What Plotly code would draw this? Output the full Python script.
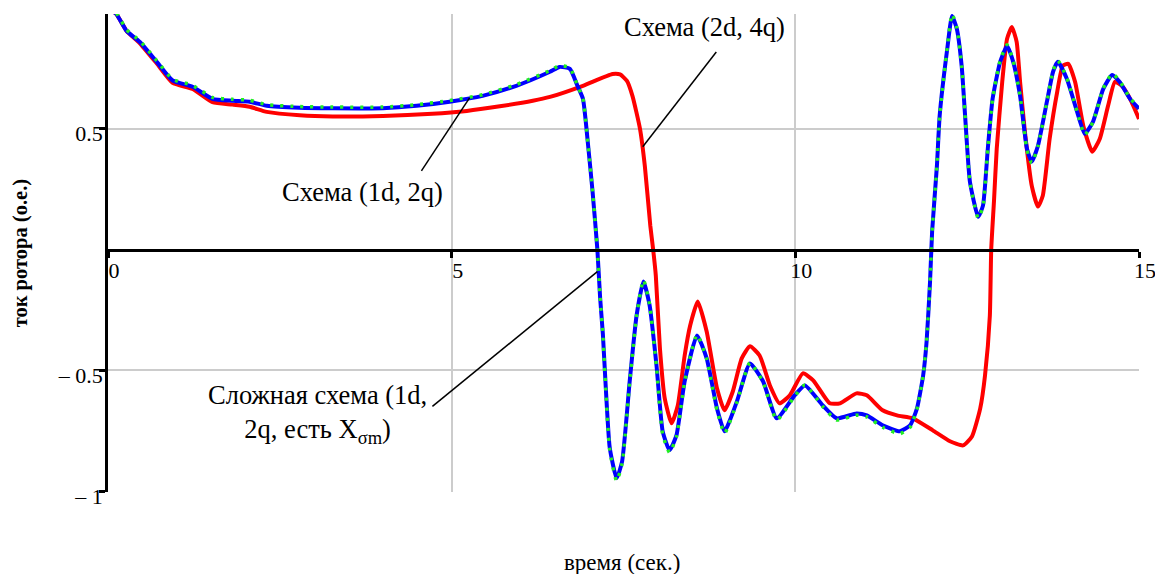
import plotly.graph_objects as go

# ---- data ----
t_blue = [0.0, 0.12, 0.27, 0.46, 0.71, 0.94, 1.23, 1.52, 1.81, 2.06, 2.31, 2.79, 3.27, 4.0,
          4.49, 4.97, 5.45, 5.94, 6.43, 6.57, 6.72, 6.83, 6.91, 6.98, 7.05, 7.12, 7.16, 7.20,
          7.24, 7.30, 7.40, 7.48, 7.59, 7.69, 7.79, 7.88, 7.98, 8.07, 8.17, 8.27, 8.39, 8.57,
          8.71, 8.86, 8.97, 9.15, 9.34, 9.53, 9.73, 9.99, 10.14, 10.40, 10.60, 10.89, 11.04,
          11.27, 11.52, 11.67, 11.77, 11.86, 11.91, 11.96, 11.99, 12.06, 12.10, 12.21, 12.28,
          12.35, 12.42, 12.47, 12.54, 12.66, 12.73, 12.80, 12.87, 12.98, 13.08, 13.17, 13.27,
          13.37, 13.44, 13.53, 13.66, 13.75, 13.82, 13.95, 14.10, 14.21, 14.33, 14.48, 14.61,
          14.72, 14.87, 15.0]
i_blue = [1.00, 0.975, 0.905, 0.86, 0.777, 0.70, 0.674, 0.624, 0.616, 0.612, 0.595, 0.587,
          0.585, 0.585, 0.595, 0.612, 0.636, 0.678, 0.736, 0.756, 0.748, 0.678, 0.624, 0.446,
          0.24, 0.0, -0.2, -0.35, -0.56, -0.82, -0.946, -0.876, -0.545, -0.273, -0.132, -0.231,
          -0.479, -0.752, -0.83, -0.769, -0.545, -0.355, -0.45, -0.657, -0.752, -0.628, -0.471,
          -0.545, -0.698, -0.603, -0.562, -0.645, -0.698, -0.678, -0.686, -0.727, -0.752,
          -0.727, -0.657, -0.52, -0.38, -0.132, 0.074, 0.347, 0.554, 0.83, 0.967, 0.913, 0.76,
          0.554, 0.281, 0.136, 0.182, 0.417, 0.624, 0.777, 0.843, 0.777, 0.636, 0.417, 0.364,
          0.43, 0.612, 0.736, 0.777, 0.707, 0.57, 0.479, 0.529, 0.665, 0.723, 0.694, 0.624,
          0.583]
i_green = [1.00, 0.98, 0.91, 0.865, 0.782, 0.705, 0.68, 0.63, 0.622, 0.618, 0.60, 0.592,
           0.59, 0.59, 0.60, 0.617, 0.641, 0.683, 0.741, 0.762, 0.752, 0.68, 0.624, 0.446,
           0.24, 0.0, -0.2, -0.35, -0.57, -0.83, -0.958, -0.885, -0.55, -0.275, -0.125, -0.228,
           -0.485, -0.765, -0.84, -0.775, -0.548, -0.352, -0.452, -0.665, -0.76, -0.632, -0.468,
           -0.548, -0.705, -0.607, -0.56, -0.65, -0.705, -0.685, -0.692, -0.735, -0.762,
           -0.735, -0.66, -0.52, -0.38, -0.132, 0.074, 0.347, 0.554, 0.835, 0.975, 0.918, 0.762,
           0.554, 0.281, 0.13, 0.178, 0.417, 0.624, 0.782, 0.848, 0.78, 0.636, 0.412, 0.358,
           0.428, 0.612, 0.74, 0.782, 0.71, 0.57, 0.475, 0.527, 0.667, 0.728, 0.698, 0.626,
           0.588]

t_red = [0.0, 0.12, 0.27, 0.46, 0.71, 0.94, 1.23, 1.52, 1.81, 2.06, 2.31, 2.79, 3.27, 4.0,
         4.72, 5.22, 5.70, 6.18, 6.43, 6.91, 7.34, 7.45, 7.55, 7.63, 7.74, 7.81, 7.89, 7.93,
         7.97, 8.03, 8.10, 8.20, 8.29, 8.39, 8.47, 8.58, 8.71, 8.86, 8.97, 9.09, 9.22, 9.34,
         9.48, 9.63, 9.77, 9.92, 10.11, 10.26, 10.50, 10.65, 10.89, 11.04, 11.27, 11.48, 11.71,
         12.0, 12.25, 12.44, 12.57, 12.69, 12.76, 12.83, 12.85, 12.89, 12.93, 13.01, 13.08,
         13.15, 13.22, 13.27, 13.34, 13.44, 13.53, 13.60, 13.70, 13.81, 13.89, 13.97, 14.07,
         14.19, 14.32, 14.43, 14.55, 14.65, 14.75, 14.87, 15.0]
i_red = [1.00, 0.975, 0.905, 0.855, 0.77, 0.69, 0.665, 0.61, 0.60, 0.591, 0.57, 0.556, 0.551,
         0.553, 0.562, 0.574, 0.593, 0.616, 0.632, 0.678, 0.727, 0.725, 0.698, 0.636, 0.50,
         0.347, 0.099, 0.004, -0.107, -0.409, -0.616, -0.719, -0.645, -0.438, -0.314, -0.215,
         -0.339, -0.574, -0.665, -0.587, -0.45, -0.40, -0.438, -0.562, -0.636, -0.603, -0.512,
         -0.541, -0.636, -0.636, -0.595, -0.603, -0.665, -0.686, -0.698, -0.748, -0.793, -0.81,
         -0.773, -0.657, -0.52, -0.273, 0.0, 0.2, 0.417, 0.694, 0.872, 0.921, 0.86, 0.694,
         0.488, 0.264, 0.178, 0.223, 0.459, 0.653, 0.76, 0.769, 0.694, 0.512, 0.405, 0.459,
         0.595, 0.694, 0.678, 0.624, 0.541]

x_ticks = [0, 5, 10, 15]
x_tick_text = ["0", "5", "10", "15"]
y_ticks = [0.5, -0.5, -1]
y_tick_text = ["0.5", "\u2013 0.5", "\u2013 1"]

x_title = "время (сек.)"
y_title = "ток ротора (о.е.)"
label_2d4q = "Схема (2d, 4q)"
label_1d2q = "Схема (1d, 2q)"
label_complex = "Сложная схема (1d,<br>2q, есть X<sub>σm</sub>)"

Y_MIN, Y_MAX = -1.0, 0.975
SERIF = "Liberation Serif"
SMOOTH = 0.5

fig = go.Figure()
fig.add_trace(go.Scatter(x=t_red, y=i_red, mode="lines",
                         line=dict(color="#ff0000", width=4, shape="spline", smoothing=SMOOTH),
                         name=label_2d4q))
fig.add_trace(go.Scatter(x=t_blue, y=i_blue, mode="lines",
                         line=dict(color="#0000ff", width=4, shape="spline", smoothing=SMOOTH),
                         name=label_1d2q))
fig.add_trace(go.Scatter(x=t_blue, y=i_green, mode="lines",
                         line=dict(color="#22ee22", width=3.5, dash="3px,7px",
                                   shape="spline", smoothing=SMOOTH),
                         name="Сложная схема"))

# leader lines for labels
leaders = [((4.56, 0.326), (5.26, 0.628)),
           ((8.85, 0.818), (7.78, 0.426)),
           ((4.72, -0.649), (7.12, -0.091))]
for (x0, y0), (x1, y1) in leaders:
    fig.add_shape(type="line", x0=x0, y0=y0, x1=x1, y1=y1, xref="x", yref="y",
                  line=dict(color="black", width=1.5))

lab_font = dict(family=SERIF, size=26.5, color="black")
fig.add_annotation(x=3.70, y=0.24, text=label_1d2q, showarrow=False, font=lab_font)
fig.add_annotation(x=8.68, y=0.921, text=label_2d4q, showarrow=False, font=lab_font)
fig.add_annotation(x=3.05, y=-0.682, text=label_complex, showarrow=False, font=lab_font,
                   align="center")

fig.add_annotation(x=0.4985, y=-0.1485, xref="paper", yref="paper", text=x_title,
                   xanchor="center", yanchor="middle",
                   showarrow=False, font=dict(family=SERIF, size=23, color="black"))
fig.add_annotation(x=-0.085, y=0.5, xref="paper", yref="paper", text="<b>" + y_title + "</b>",
                   xanchor="center", yanchor="middle",
                   textangle=-90, showarrow=False, font=dict(family=SERIF, size=20.5, color="black"))

fig.update_layout(
    width=1155, height=574,
    margin=dict(l=108, r=16, t=14, b=82),
    paper_bgcolor="white", plot_bgcolor="white",
    showlegend=False,
    font=dict(family=SERIF),
    xaxis=dict(range=[0, 15], tickvals=x_ticks, ticktext=x_tick_text,
               showgrid=True, gridcolor="#cccccc", gridwidth=1.5,
               showline=True, linecolor="black", linewidth=2.5,
               anchor="free", position=(0 - Y_MIN) / (Y_MAX - Y_MIN),
               ticks="outside", ticklen=6, tickwidth=2.5, tickcolor="black",
               zeroline=False, ticklabelshift=6, ticklabelstandoff=-6,
               ticklabeloverflow="allow", automargin=False,
               tickfont=dict(family=SERIF, size=22, color="black")),
    yaxis=dict(range=[Y_MIN - 0.003, Y_MAX], tickvals=y_ticks, ticktext=y_tick_text,
               showgrid=True, gridcolor="#cccccc", gridwidth=1.5,
               showline=True, linecolor="black", linewidth=2.5,
               ticks="outside", ticklen=6, tickwidth=2.5, tickcolor="black",
               zeroline=False, ticklabelshift=5, ticklabelstandoff=-8,
               ticklabeloverflow="allow", automargin=False,
               tickfont=dict(family=SERIF, size=22, color="black")),
)

# remove the default page margin so the figure sits at the window's top-left corner
fig.write_html("out.html", config={"displayModeBar": False},
               post_script="document.body.style.margin='0';document.body.style.overflow='hidden';")
